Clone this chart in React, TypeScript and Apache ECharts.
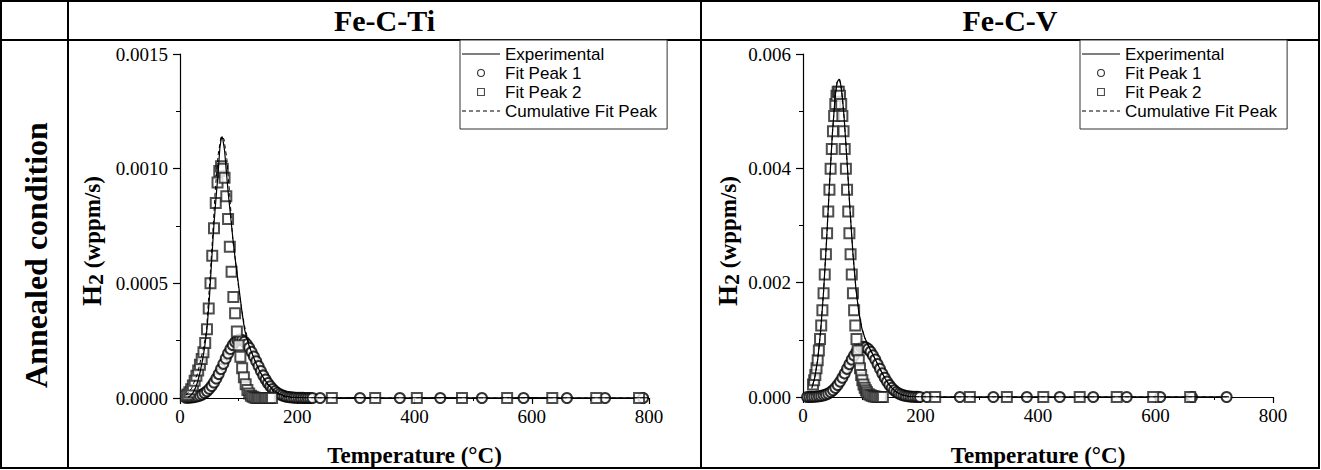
import React, { useEffect, useRef } from "react";
import * as echarts from "echarts";

// ---------- DATA ----------
const panelTitles = ["Fe-C-Ti", "Fe-C-V"];
const rowTitle = "Annealed condition";
const seriesNames = ["Experimental", "Fit Peak 1", "Fit Peak 2", "Cumulative Fit Peak"];
const xTickMax = 800;
const tiYMax = 0.0015;
const tiYStep = 0.0005;
const vYMax = 0.006;
const vYStep = 0.002;

// Fe-C-Ti : experimental TDS curve [T (°C), H2 (wppm/s)]
const tiExperimental: number[][] = [
  [14, 3e-6], [18, 10e-6], [22, 22e-6], [26, 42e-6], [30, 70e-6], [34, 110e-6], [38, 160e-6],
  [42, 220e-6], [46, 300e-6], [50, 430e-6], [54, 600e-6], [58, 760e-6], [62, 890e-6], [65, 980e-6],
  [68, 1090e-6], [70, 1125e-6], [71.5, 1140e-6], [73, 1130e-6], [76, 1080e-6], [79, 990e-6],
  [82, 900e-6], [86, 800e-6], [90, 700e-6], [94, 610e-6], [98, 530e-6], [102, 450e-6], [106, 370e-6],
  [110, 300e-6], [114, 260e-6], [118, 225e-6], [122, 200e-6], [126, 175e-6], [130, 150e-6],
  [135, 122e-6], [140, 98e-6], [145, 78e-6], [150, 60e-6], [160, 33e-6], [170, 17e-6], [180, 8e-6],
  [190, 4e-6], [210, 2e-6], [250, 1e-6], [300, 2e-6], [350, 1e-6], [400, 1e-6], [450, 2e-6],
  [500, 1e-6], [550, 1e-6], [600, 2e-6], [650, 1e-6], [700, 1e-6], [750, 1e-6], [800, 1e-6],
];
// Fe-C-Ti : fit peak 1 (circles)
const tiPeak1: number[][] = [
  [10, 1e-6], [14, 1.2e-6], [18, 2e-6], [22, 3.2e-6], [26, 4.8e-6], [30, 7.4e-6], [34, 10.7e-6],
  [38, 15.3e-6], [42, 21.7e-6], [46, 29.6e-6], [50, 40e-6], [54, 52.5e-6], [58, 67.6e-6],
  [62, 85.2e-6], [66, 104.8e-6], [70, 126.5e-6], [74, 149e-6], [78, 172e-6], [82, 194e-6],
  [86, 214e-6], [90, 231e-6], [94, 244e-6], [98, 252e-6], [102, 255e-6], [106, 252.6e-6],
  [110, 245.6e-6], [114, 234e-6], [118, 219e-6], [122, 201e-6], [126, 181e-6], [130, 160e-6],
  [134, 139e-6], [138, 118e-6], [142, 98.4e-6], [146, 80.6e-6], [150, 64.8e-6], [154, 51e-6],
  [158, 39.5e-6], [162, 30.1e-6], [166, 22.3e-6], [170, 16.3e-6], [174, 11.7e-6], [178, 8.2e-6],
  [182, 5.7e-6], [186, 3.9e-6], [190, 2.6e-6], [194, 1.7e-6], [198, 1.1e-6], [202, 0.7e-6],
  [206, 0.4e-6], [210, 0.3e-6], [214, 0.2e-6], [218, 0.1e-6], [222, 0.1e-6], [226, 0],
  [239, 0], [307, 0], [375, 0], [444, 0], [515, 0], [586, 0], [660, 0], [725, 0], [790, 0],
];
// Fe-C-Ti : fit peak 2 (squares)
const tiPeak2: number[][] = [
  [10, 10e-6], [13, 15e-6], [16, 25e-6], [19, 38e-6], [22, 55e-6], [25, 75e-6], [28, 97e-6],
  [31, 120e-6], [34, 145e-6], [37, 170e-6], [40, 200e-6], [43, 240e-6], [46, 300e-6], [49, 390e-6],
  [52, 500e-6], [55, 620e-6], [58, 740e-6], [61, 850e-6], [64, 940e-6], [67, 990e-6], [70, 1010e-6],
  [73, 1000e-6], [76, 960e-6], [79, 880e-6], [82, 780e-6], [85, 660e-6], [88, 550e-6], [91, 440e-6],
  [94, 370e-6], [97, 290e-6], [100, 230e-6], [103, 180e-6], [106, 130e-6], [109, 90e-6],
  [112, 60e-6], [115, 35e-6], [118, 20e-6], [121, 10e-6], [124, 5e-6], [127, 2e-6], [130, 0],
  [133, 0], [136, 0], [139, 0], [142, 0], [145, 0], [148, 0], [151, 0], [154, 0], [157, 0],
  [259, 0], [333, 0], [404, 0], [481, 0], [558, 0], [635, 0], [710, 0], [783, 0],
];
// Fe-C-Ti : cumulative fit (dashed)
const tiCumulative: number[][] = [
  [10, 11e-6], [20, 43e-6], [30, 107e-6], [40, 218e-6], [45, 290e-6], [50, 480e-6], [55, 680e-6],
  [60, 900e-6], [65, 1060e-6], [70, 1140e-6], [75, 1130e-6], [80, 1040e-6], [85, 880e-6],
  [90, 690e-6], [95, 590e-6], [100, 480e-6], [105, 390e-6], [110, 315e-6], [115, 262e-6],
  [120, 214e-6], [125, 180e-6], [130, 150e-6], [140, 97e-6], [150, 56e-6], [160, 27e-6],
  [170, 12e-6], [180, 4e-6], [200, 1e-6], [250, 0], [800, 0],
];

// Fe-C-V : experimental TDS curve
const vExperimental: number[][] = [
  [15, 150e-6], [17, 230e-6], [20, 340e-6], [25, 650e-6], [30, 1150e-6], [35, 1840e-6],
  [40, 2720e-6], [45, 3700e-6], [50, 4610e-6], [55, 5280e-6], [58, 5500e-6], [60, 5540e-6],
  [62, 5560e-6], [64, 5480e-6], [67, 5250e-6], [70, 4890e-6], [75, 4120e-6], [80, 3270e-6],
  [85, 2510e-6], [90, 1900e-6], [95, 1480e-6], [100, 1210e-6], [105, 1040e-6], [110, 920e-6],
  [115, 820e-6], [120, 720e-6], [125, 618e-6], [130, 513e-6], [135, 413e-6], [140, 320e-6],
  [145, 239e-6], [150, 172e-6], [155, 119e-6], [160, 80e-6], [170, 32e-6], [180, 11e-6],
  [190, 4e-6], [200, 1e-6], [250, 1e-6], [300, 2e-6], [400, 1e-6], [500, 1e-6], [600, 2e-6],
  [700, 1e-6], [725, 1e-6],
];
// Fe-C-V : fit peak 1 (circles)
const vPeak1: number[][] = [
  [7, 1e-6], [11, 1.7e-6], [15, 2.9e-6], [19, 4.8e-6], [23, 7.7e-6], [27, 12.2e-6], [31, 19e-6],
  [35, 28.8e-6], [39, 42.5e-6], [43, 61e-6], [47, 86e-6], [51, 119e-6], [55, 160e-6], [59, 210e-6],
  [63, 269e-6], [67, 337e-6], [71, 413e-6], [75, 493e-6], [79, 575e-6], [83, 655e-6], [87, 728e-6],
  [91, 791e-6], [95, 840e-6], [99, 869e-6], [103, 880e-6], [107, 869e-6], [111, 840e-6],
  [115, 791e-6], [119, 728e-6], [123, 655e-6], [127, 575e-6], [131, 493e-6], [135, 413e-6],
  [139, 337e-6], [143, 269e-6], [147, 210e-6], [151, 160e-6], [155, 119e-6], [159, 86e-6],
  [163, 61e-6], [167, 42.5e-6], [171, 28.8e-6], [175, 19e-6], [179, 12.2e-6], [183, 7.7e-6],
  [187, 4.8e-6], [191, 2.9e-6], [195, 1.7e-6], [199, 1e-6],
  [211, 0], [267, 0], [324, 0], [381, 0], [437, 0], [494, 0], [551, 0], [608, 0], [662, 0], [721, 0],
];
// Fe-C-V : fit peak 2 (squares)
const vPeak2: number[][] = [
  [17, 218e-6], [19, 292e-6], [21, 385e-6], [23, 501e-6], [25, 643e-6], [27, 813e-6], [29, 1014e-6],
  [31, 1249e-6], [33, 1516e-6], [35, 1814e-6], [37, 2142e-6], [39, 2495e-6], [41, 2865e-6],
  [43, 3245e-6], [45, 3625e-6], [47, 3994e-6], [49, 4339e-6], [51, 4650e-6], [53, 4915e-6],
  [55, 5124e-6], [57, 5268e-6], [59, 5339e-6], [61, 5339e-6], [63, 5268e-6], [65, 5124e-6],
  [67, 4915e-6], [69, 4650e-6], [71, 4339e-6], [73, 3994e-6], [75, 3625e-6], [77, 3245e-6],
  [79, 2865e-6], [81, 2495e-6], [83, 2142e-6], [85, 1814e-6], [87, 1516e-6], [89, 1249e-6],
  [91, 1014e-6], [93, 813e-6], [95, 643e-6], [97, 501e-6], [99, 385e-6], [101, 292e-6],
  [103, 218e-6], [105, 161e-6], [107, 117e-6], [109, 84e-6], [112, 50e-6], [115, 29e-6],
  [118, 16e-6], [121, 8.5e-6], [124, 4.4e-6], [127, 2e-6], [130, 1e-6], [133, 0], [136, 0],
  [225, 0], [284, 0], [347, 0], [409, 0], [471, 0], [534, 0], [596, 0], [659, 0],
];
// Fe-C-V : cumulative fit (dashed)
const vCumulative: number[][] = [
  [17, 222e-6], [20, 341e-6], [25, 653e-6], [30, 1145e-6], [35, 1843e-6], [40, 2724e-6],
  [45, 3698e-6], [50, 4611e-6], [55, 5284e-6], [58, 5510e-6], [62, 5567e-6], [65, 5426e-6],
  [70, 4893e-6], [75, 4118e-6], [80, 3273e-6], [85, 2506e-6], [90, 1904e-6], [95, 1483e-6],
  [100, 1210e-6], [105, 1038e-6], [110, 920e-6], [115, 820e-6], [120, 720e-6], [125, 615e-6],
  [130, 513e-6], [135, 413e-6], [140, 320e-6], [145, 239e-6], [150, 172e-6], [155, 119e-6],
  [160, 80e-6], [170, 32e-6], [180, 11e-6], [190, 3e-6], [200, 1e-6], [250, 0], [725, 0],
];

// ---------- STYLE ----------
const SERIF = '"Liberation Serif", "Times New Roman", serif';
const SANS = '"Liberation Sans", Arial, sans-serif';

const ICON_SOLID = "path://M0,0h38v1.2h-38z";
const ICON_DASH = "path://M0,0h4v1.1h-4z M7,0h4v1.1h-4z M14,0h4v1.1h-4z M21,0h4v1.1h-4z M28,0h4v1.1h-4z M35,0h3v1.1h-3z";
const ICON_SQUARE = "path://M0,0h10v10h-10z M1.4,1.4v7.2h7.2v-7.2z";
const ICON_RING = "path://M5,0A5,5 0 1,1 5,10A5,5 0 1,1 5,0Z M5,1.4A3.6,3.6 0 1,0 5,8.6A3.6,3.6 0 1,0 5,1.4Z";

function xAxisCfg(gridIndex: number) {
  return {
    type: "value",
    gridIndex,
    min: 0,
    max: xTickMax,
    interval: 200,
    axisLine: { show: true, onZero: false, lineStyle: { color: "#000", width: 1.2 } },
    axisTick: { show: true, inside: false, length: 6, lineStyle: { color: "#000", width: 1.2 } },
    minorTick: { show: true, splitNumber: 2, length: 3, lineStyle: { color: "#000", width: 1 } },
    axisLabel: { color: "#000", fontFamily: SERIF, fontSize: 19, margin: 9 },
    splitLine: { show: false },
    minorSplitLine: { show: false },
  };
}

function yAxisCfg(gridIndex: number, max: number, step: number, digits: number) {
  return {
    type: "value",
    gridIndex,
    min: 0,
    max,
    interval: step,
    axisLine: { show: true, onZero: false, lineStyle: { color: "#000", width: 1.2 } },
    axisTick: { show: true, inside: false, length: 7, lineStyle: { color: "#000", width: 1.2 } },
    minorTick: { show: true, splitNumber: 2, length: 4, lineStyle: { color: "#000", width: 1 } },
    axisLabel: {
      color: "#000",
      fontFamily: SERIF,
      fontSize: 19,
      margin: 12,
      formatter: (v: number) => v.toFixed(digits),
    },
    splitLine: { show: false },
    minorSplitLine: { show: false },
  };
}

function panelSeries(idx: number, exp: number[][], p1: number[][], p2: number[][], cum: number[][]) {
  return [
    {
      type: "line",
      name: seriesNames[0],
      xAxisIndex: idx,
      yAxisIndex: idx,
      data: exp,
      symbol: "none",
      lineStyle: { color: "#000", width: 1.2 },
      itemStyle: { color: "#000" },
      z: 4,
      silent: true,
    },
    {
      type: "scatter",
      name: seriesNames[1],
      xAxisIndex: idx,
      yAxisIndex: idx,
      data: p1,
      symbol: "emptyCircle",
      symbolSize: 10,
      itemStyle: { color: "#000", borderWidth: 1 },
      z: 2,
      silent: true,
    },
    {
      type: "scatter",
      name: seriesNames[2],
      xAxisIndex: idx,
      yAxisIndex: idx,
      data: p2,
      symbol: "emptyRect",
      symbolSize: 10,
      itemStyle: { color: "#222", borderWidth: 1 },
      z: 3,
      silent: true,
    },
    {
      type: "line",
      name: seriesNames[3],
      xAxisIndex: idx,
      yAxisIndex: idx,
      data: cum,
      symbol: "none",
      lineStyle: { color: "#000", width: 1, type: [4, 3] },
      itemStyle: { color: "#000" },
      z: 5,
      silent: true,
    },
  ];
}

function legendCfg(left: number) {
  return {
    left,
    top: 40,
    orient: "vertical",
    data: [
      { name: seriesNames[0], icon: ICON_SOLID, itemStyle: { color: "#000", borderWidth: 0 } },
      { name: seriesNames[1], icon: ICON_RING, itemStyle: { color: "#000", borderWidth: 0 } },
      { name: seriesNames[2], icon: ICON_SQUARE, itemStyle: { color: "#222", borderWidth: 0 } },
      { name: seriesNames[3], icon: ICON_DASH, itemStyle: { color: "#000", borderWidth: 0 } },
    ],
    selectedMode: false,
    itemWidth: 38,
    itemHeight: 8,
    itemGap: 1,
    padding: [5, 10, 9, 2],
    borderColor: "#333",
    borderWidth: 1,
    borderRadius: 0,
    backgroundColor: "#fff",
    textStyle: { color: "#000", fontFamily: SANS, fontSize: 17, lineHeight: 18 },
  };
}

function yName(x: number) {
  return {
    type: "text",
    x,
    y: 241,
    rotation: Math.PI / 2,
    silent: true,
    style: {
      text: "{h|H}{s|2}{w| (wppm/s)}",
      align: "center",
      verticalAlign: "middle",
      fill: "#000",
      rich: {
        h: { fontFamily: SERIF, fontWeight: "bold", fontSize: 27, lineHeight: 28, verticalAlign: "middle", fill: "#000" },
        s: { fontFamily: SERIF, fontWeight: "bold", fontSize: 22, lineHeight: 16, verticalAlign: "bottom", fill: "#000" },
        w: { fontFamily: SERIF, fontWeight: "bold", fontSize: 23, lineHeight: 28, verticalAlign: "middle", fill: "#000" },
      },
    },
  };
}

function plainText(text: string, x: number, y: number, size: number, rotation = 0) {
  return {
    type: "text",
    x,
    y,
    rotation,
    silent: true,
    style: {
      text,
      align: "center",
      verticalAlign: "middle",
      fill: "#000",
      fontFamily: SERIF,
      fontWeight: "bold",
      fontSize: size,
    },
  };
}

function line(x1: number, y1: number, x2: number, y2: number) {
  return { type: "line", silent: true, shape: { x1, y1, x2, y2 }, style: { stroke: "#000", lineWidth: 2 } };
}

export default function App() {
  const ref = useRef<HTMLDivElement>(null);

  useEffect(() => {
    if (!ref.current) return;
    const chart = echarts.init(ref.current, null, { renderer: "svg" });
    const option: any = {
      animation: false,
      backgroundColor: "#fff",
      grid: [
        { left: 180, top: 54, width: 469, height: 344, outerBoundsMode: "none", containLabel: false },
        { left: 803, top: 54, width: 470, height: 343, outerBoundsMode: "none", containLabel: false },
      ],
      xAxis: [xAxisCfg(0), xAxisCfg(1)],
      yAxis: [yAxisCfg(0, tiYMax, tiYStep, 4), yAxisCfg(1, vYMax, vYStep, 3)],
      legend: [legendCfg(460), legendCfg(1080)],
      series: [
        ...panelSeries(0, tiExperimental, tiPeak1, tiPeak2, tiCumulative),
        ...panelSeries(1, vExperimental, vPeak1, vPeak2, vCumulative),
      ],
      graphic: [
        {
          type: "rect",
          silent: true,
          shape: { x: 1, y: 1, width: 1318, height: 467 },
          style: { fill: "none", stroke: "#000", lineWidth: 2 },
        },
        line(1, 40, 1319, 40),
        line(68, 1, 68, 468),
        line(701, 1, 701, 468),
        plainText(panelTitles[0], 384.5, 20, 30),
        plainText(panelTitles[1], 1010, 20, 30),
        plainText(rowTitle, 36, 255, 32, Math.PI / 2),
        yName(92),
        yName(728),
        plainText("Temperature (°C)", 414.5, 455, 23),
        plainText("Temperature (°C)", 1038, 455, 23),
      ],
    };
    chart.setOption(option);
    return () => chart.dispose();
  }, []);

  return (
    <div
      ref={ref}
      style={{ position: "absolute", left: 0, top: 0, width: 1321, height: 470, background: "#fff" }}
    />
  );
}
